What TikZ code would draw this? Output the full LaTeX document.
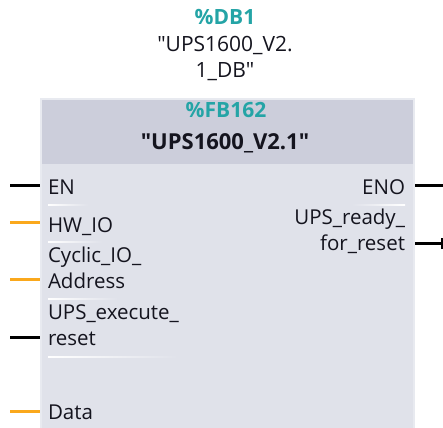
\documentclass[tikz,border=0pt]{standalone}
\usepackage{fontspec}
\setmainfont{Open Sans}[Ligatures=TeXOff]
\definecolor{fbteal}{RGB}{36,164,166}
\definecolor{bodycol}{RGB}{224,226,234}
\definecolor{headcol}{RGB}{204,206,219}
\definecolor{edgecol}{RGB}{232,234,240}
\definecolor{txtcol}{RGB}{20,20,30}
\definecolor{pinorange}{RGB}{250,168,28}
\tikzset{
  lbl/.style={font=\fontsize{20.5}{24}\selectfont, text=txtcol, inner sep=0pt, outer sep=0pt},
  tealttl/.style={font=\fontsize{21}{25}\selectfont\bfseries, text=fbteal, inner sep=0pt},
  dbname/.style={font=\fontsize{21}{25}\selectfont, text=txtcol, inner sep=0pt},
  fbname/.style={font=\fontsize{22}{26}\selectfont\bfseries, text=txtcol, inner sep=0pt},
  boolpin/.style={draw=black, line width=3pt},
  anypin/.style={draw=pinorange, line width=3pt},
  sepline/.style={left color=white, right color=bodycol},
  sepliner/.style={left color=bodycol, right color=white}
}
\begin{document}
\begin{tikzpicture}[x=1pt,y=-1pt]
\useasboundingbox (0,0) rectangle (443,427);
% block
\node[fill=edgecol, minimum width=375pt, minimum height=340pt, inner sep=0pt, outer sep=0pt, anchor=north west] (fb) at (40,98) {};
\node[fill=bodycol, minimum width=371pt, minimum height=340pt, inner sep=0pt, outer sep=0pt, anchor=north west] (fbin) at (42,100) {};
\node[fill=headcol, minimum width=371pt, minimum height=64pt, inner sep=0pt, outer sep=0pt, anchor=north west] (hdr) at (42,100) {};
% titles
\node[tealttl, anchor=base] (db) at (225,25) {\%DB1};
\node[dbname, anchor=base] (dbn1) at (225,52) {"UPS1600\_V2.};
\node[dbname, anchor=base] (dbn2) at (225,78) {1\_DB"};
\node[tealttl, anchor=base] (fbnum) at (226,118) {\%FB162};
\node[fbname, anchor=base] (fbn) at (225,150) {"UPS1600\_V2.1"};
% separators
\shade[sepline] (48,204.5) rectangle (88,205.7);
\shade[sepline] (48,241.5) rectangle (102,242.7);
\shade[sepline] (48,298.5) rectangle (118,299.7);
\shade[sepline] (48,356.5) rectangle (178,357.7);
\shade[sepliner] (352,204.5) rectangle (405,205.7);
% left labels
\node[lbl, anchor=base west] (en) at (48,195) {EN};
\node[lbl, anchor=base west] (hwio) at (48,232) {HW\_IO};
\node[lbl, anchor=base west] (cyc1) at (48,262) {Cyclic\_IO\_};
\node[lbl, anchor=base west] (cyc2) at (48,288) {Address};
\node[lbl, anchor=base west] (ups1) at (48,319) {UPS\_execute\_};
\node[lbl, anchor=base west] (ups2) at (48,345) {reset};
\node[lbl, anchor=base west] (data) at (48,419) {Data};
% right labels
\node[lbl, anchor=base east] (eno) at (405,195) {ENO};
\node[lbl, anchor=base east] (rdy1) at (405,224) {UPS\_ready\_};
\node[lbl, anchor=base east] (rdy2) at (405,250) {for\_reset};
% pin ends
\coordinate (enL) at (10,186);
\coordinate (hwioL) at (10,222);
\coordinate (adrL) at (10,279);
\coordinate (rstL) at (10,337);
\coordinate (dataL) at (10,411);
\coordinate (enoR) at (443,186);
\coordinate (rdyR) at (442,243);
% pins
\draw[boolpin] (enL) -- (fb.west |- enL);
\draw[anypin] (hwioL) -- (fb.west |- hwioL);
\draw[anypin] (adrL) -- (fb.west |- adrL);
\draw[boolpin] (rstL) -- (fb.west |- rstL);
\draw[anypin] (dataL) -- (fb.west |- dataL);
\draw[boolpin] (fb.east |- enoR) -- (enoR);
\draw[boolpin] (fb.east |- rdyR) -- (rdyR);
\draw[draw=black, line width=2pt] ([yshift=-5.5pt]rdyR) -- ([yshift=5.5pt]rdyR);
\end{tikzpicture}
\end{document}
